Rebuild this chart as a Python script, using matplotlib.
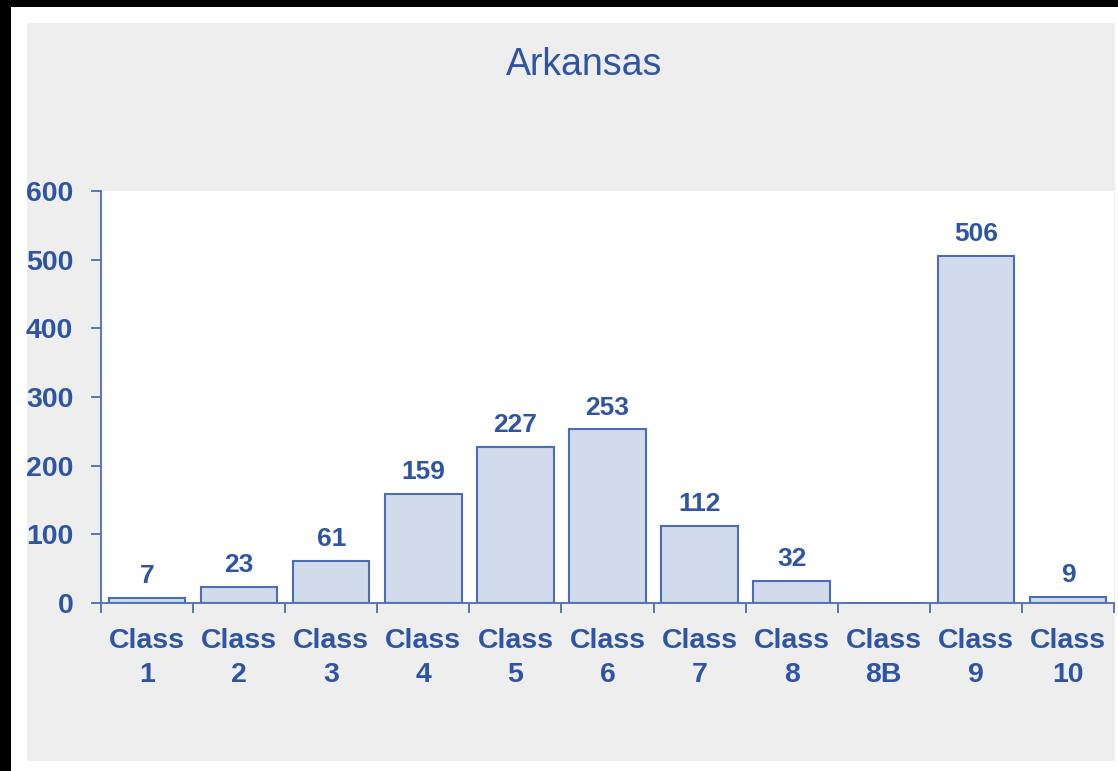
import matplotlib.pyplot as plt
from matplotlib.patches import Rectangle

# data
classes = ['Class\n1', 'Class\n2', 'Class\n3', 'Class\n4', 'Class\n5', 'Class\n6',
           'Class\n7', 'Class\n8', 'Class\n8B', 'Class\n9', 'Class\n10']
counts = [7, 23, 61, 159, 227, 253, 112, 32, 0, 506, 9]
labels = ['7', '23', '61', '159', '227', '253', '112', '32', '', '506', '9']

txt = '#2E55A3'
edge = '#4A6DB5'
fill = '#D1DBEB'

plt.rcParams['font.family'] = ['Liberation Sans', 'DejaVu Sans']

fig = plt.figure(figsize=(11.18, 7.71), dpi=100, facecolor='black')
# white frame and gray panel behind the chart
fig.patches.append(Rectangle((11 / 1118, 0), 1, 1 - 7 / 771, transform=fig.transFigure,
                             facecolor='white', edgecolor='none', zorder=-2))
fig.patches.append(Rectangle((27 / 1118, 10 / 771), 1088 / 1118, 738 / 771,
                             transform=fig.transFigure, facecolor='#EEEEEE',
                             edgecolor='none', zorder=-1))

ax = fig.add_axes([101 / 1118, 1 - 603 / 771, 1013 / 1118, 412 / 771])
ax.set_facecolor('white')

x = range(len(counts))
bars = ax.bar(x, counts, width=0.83, color=fill, edgecolor=edge, linewidth=1.5)
for b, lab in zip(bars, labels):
    ax.annotate(lab, (b.get_x() + b.get_width() / 2, b.get_height()),
                xytext=(0, 7), textcoords='offset points', ha='center', va='bottom',
                fontsize=19, fontweight='bold', color=txt)

ax.set_xlim(-0.5, len(counts) - 0.5)
ax.set_ylim(0, 600)
ax.set_yticks(range(0, 601, 100))

ax.set_xticks(list(x))
ax.set_xticklabels(classes)
ax.set_xticks([i - 0.5 for i in range(len(counts) + 1)], minor=True)
ax.tick_params(axis='x', which='major', length=0, pad=18, labelsize=20.5, labelcolor=txt)
ax.tick_params(axis='x', which='minor', length=7, width=1.3, color=edge, direction='out')
ax.tick_params(axis='y', length=7, width=1.3, color=edge, pad=13, labelsize=20.5, labelcolor=txt)
for t in ax.get_xticklabels():
    t.set_fontweight('bold')
    t.set_linespacing(1.4)
for t in ax.get_yticklabels():
    t.set_fontweight('bold')

for s in ['top', 'right']:
    ax.spines[s].set_visible(False)
for s in ['left', 'bottom']:
    ax.spines[s].set_color(edge)
    ax.spines[s].set_linewidth(1.3)

fig.text(584 / 1118, 1 - 75 / 771, 'Arkansas', ha='center', va='baseline',
         fontsize=27, color=txt)

plt.savefig('out.png', dpi=100, facecolor=fig.get_facecolor())
